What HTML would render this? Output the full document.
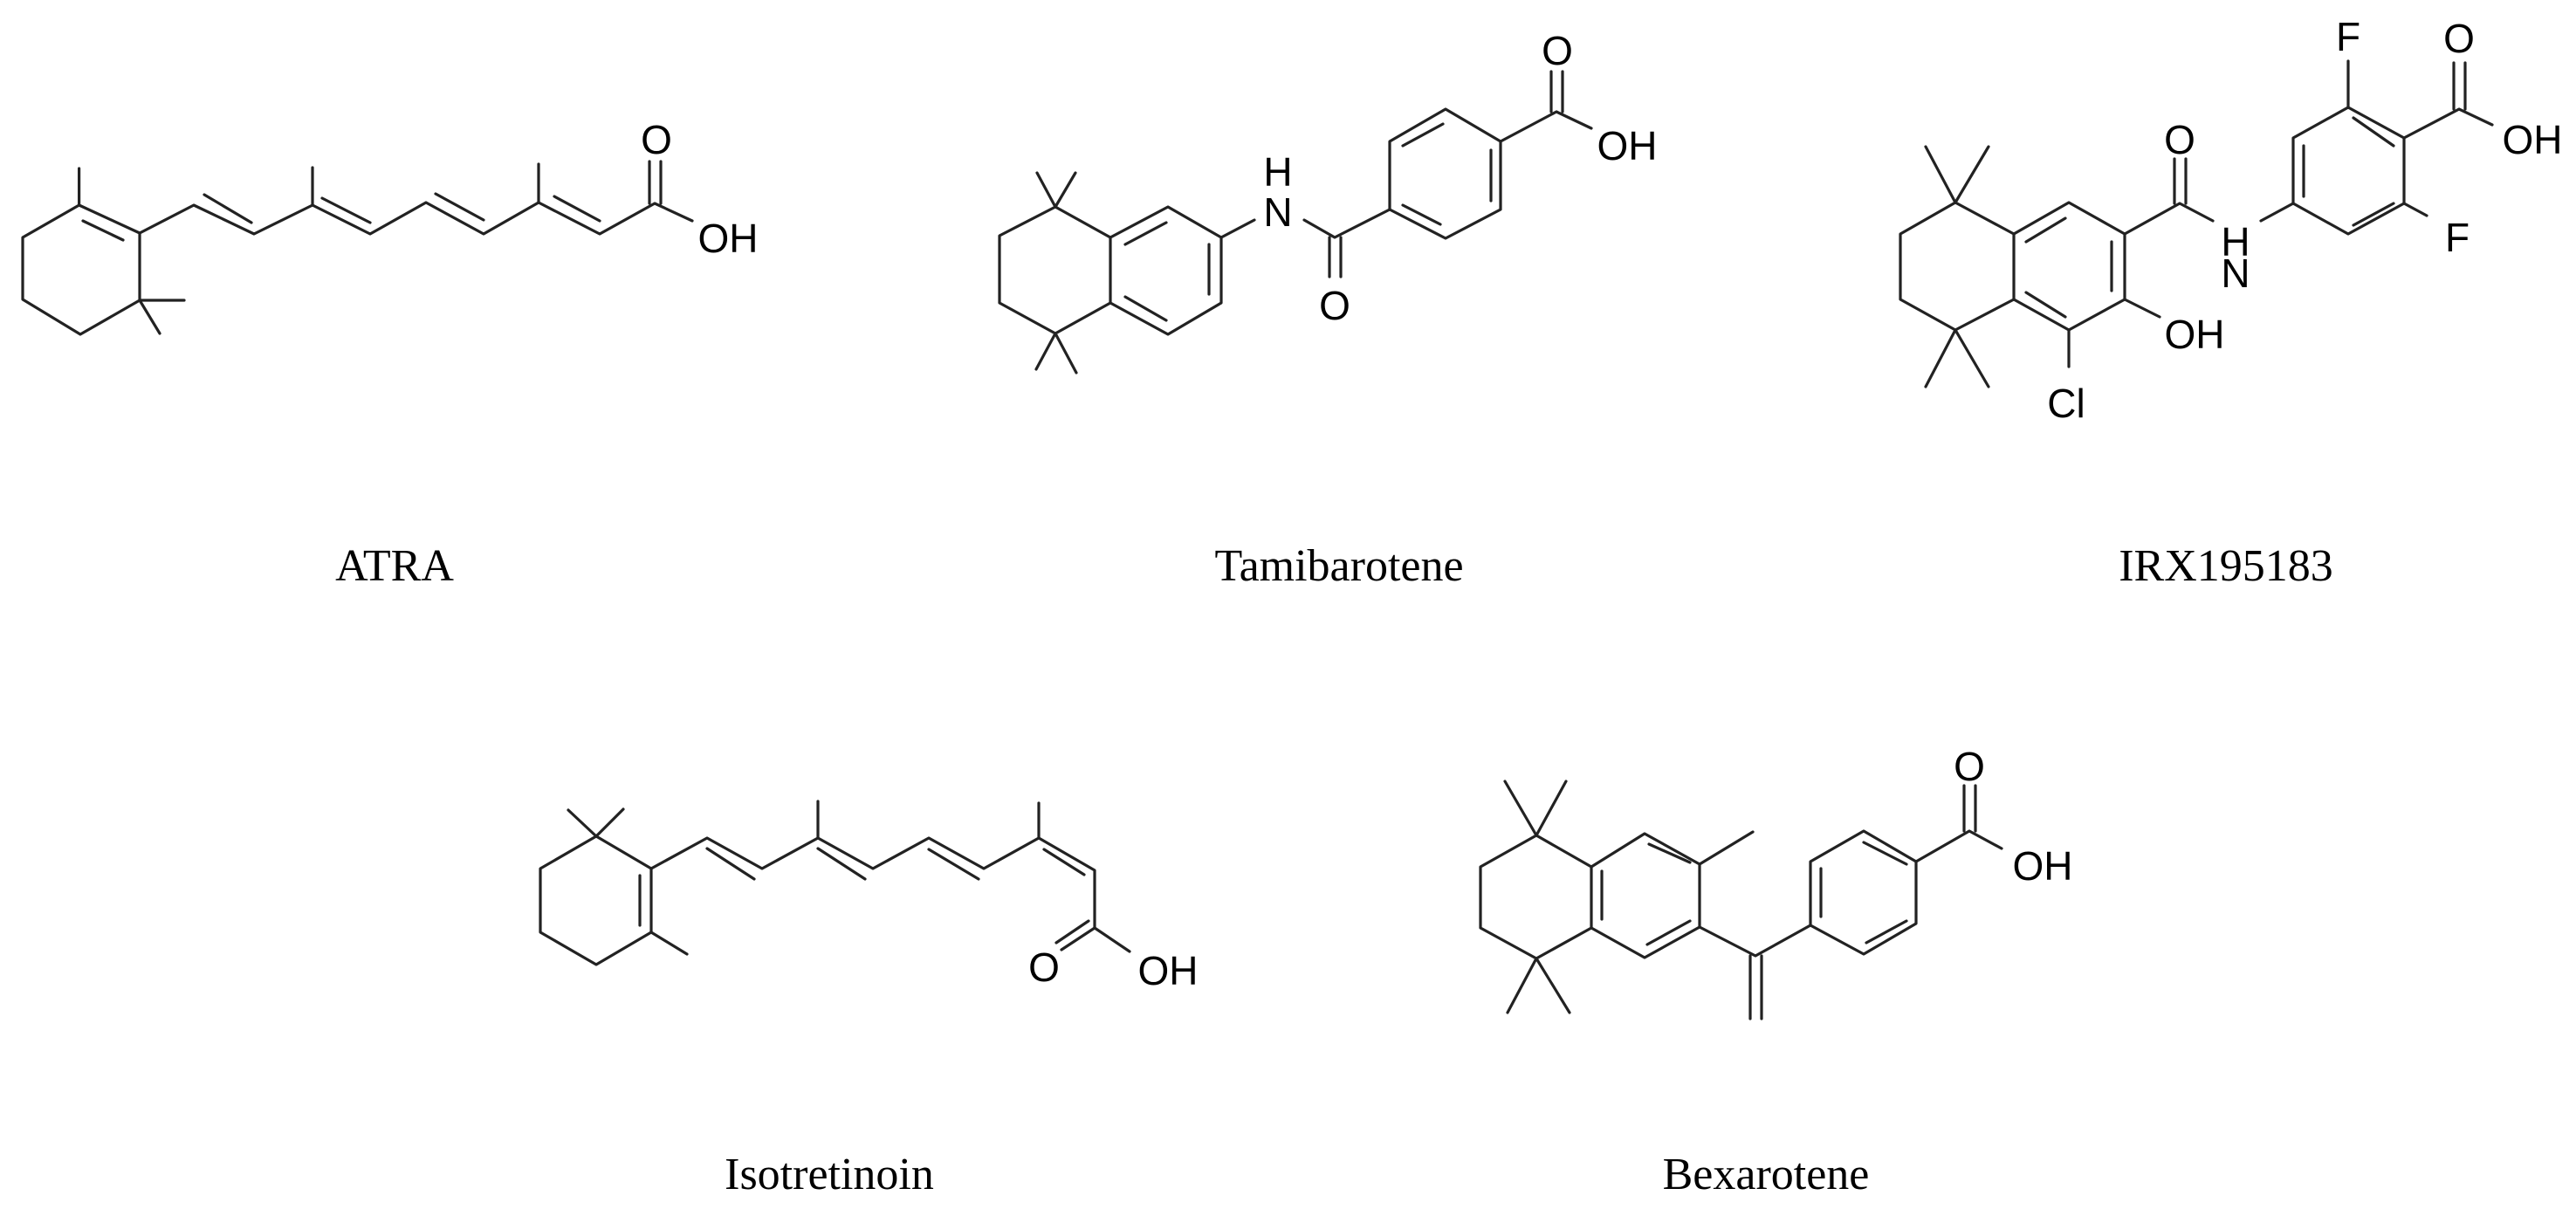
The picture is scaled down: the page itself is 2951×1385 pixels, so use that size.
<!DOCTYPE html>
<html><head><meta charset="utf-8"><style>
html,body{margin:0;padding:0;background:#fff;}
svg{display:block;}
.b{stroke:#222;stroke-width:3.2;fill:none;stroke-linecap:round;stroke-linejoin:round;}
.a{font-family:"Liberation Sans",Arial,sans-serif;font-size:46px;fill:#000;text-anchor:middle;dominant-baseline:central;}
.t{font-family:"Liberation Serif","Times New Roman",serif;font-size:52px;fill:#000;text-anchor:middle;}
</style></head><body>
<svg width="2951" height="1385" viewBox="0 0 2951 1385" xmlns="http://www.w3.org/2000/svg">
<!-- ATRA -->
<g class="b">
<polyline points="90.6,193 90.6,235 26,272 26,343 92,383 160,344 160,267 90.6,235"/>
<line x1="95" y1="253" x2="141" y2="275"/>
<line x1="160" y1="344" x2="211" y2="344"/>
<line x1="160" y1="344" x2="183" y2="382"/>
<polyline points="160,267 222,235 291,268 358,235 424,268 488,232 554,268 617,232 687,268 750,233 793,253"/>
<line x1="358" y1="235" x2="358" y2="192"/>
<line x1="617" y1="232" x2="617" y2="188"/>
<line x1="234" y1="223" x2="288" y2="255"/>
<line x1="369" y1="227" x2="424" y2="255"/>
<line x1="499" y1="222" x2="554" y2="252"/>
<line x1="635" y1="225" x2="687" y2="253"/>
<line x1="744" y1="233" x2="744" y2="185"/>
<line x1="757" y1="233" x2="757" y2="185"/>
</g>
<text class="a" x="752" y="160">O</text>
<text class="a" x="834" y="273">OH</text>
<text class="t" x="452" y="665">ATRA</text>

<!-- Tamibarotene -->
<g class="b">
<polyline points="1188,198 1209,237 1232,198"/>
<polyline points="1187,423 1209,382 1233,427"/>
<polyline points="1209,237 1145,270 1145,347 1209,382 1272,347 1272,272 1209,237"/>
<polyline points="1272,272 1338,237 1399,272 1399,347 1338,383 1272,347"/>
<line x1="1289" y1="280" x2="1336" y2="255"/>
<line x1="1385" y1="280" x2="1385" y2="337"/>
<line x1="1289" y1="340" x2="1336" y2="367"/>
<line x1="1399" y1="272" x2="1437" y2="252"/>
<polyline points="1494,252 1529,272 1592,240"/>
<line x1="1523" y1="272" x2="1523" y2="317"/>
<line x1="1536" y1="272" x2="1536" y2="317"/>
<polyline points="1592,240 1592,162 1656,125 1719,162 1719,240 1656,273 1592,240"/>
<line x1="1607" y1="167" x2="1653" y2="142"/>
<line x1="1708" y1="172" x2="1708" y2="230"/>
<line x1="1607" y1="235" x2="1650" y2="257"/>
<polyline points="1719,162 1783,128 1823,147"/>
<line x1="1777" y1="128" x2="1777" y2="82"/>
<line x1="1790" y1="128" x2="1790" y2="82"/>
</g>
<text class="a" x="1464" y="197">H</text>
<text class="a" x="1464" y="243">N</text>
<text class="a" x="1529" y="350">O</text>
<text class="a" x="1784" y="58">O</text>
<text class="a" x="1864" y="167">OH</text>
<text class="t" x="1534" y="665">Tamibarotene</text>

<!-- IRX195183 -->
<g class="b">
<polyline points="2206,168 2240,232 2278,168"/>
<polyline points="2206,443 2240,378 2278,443"/>
<polyline points="2240,232 2177,268 2177,343 2240,378 2307,343 2307,268 2240,232"/>
<polyline points="2307,268 2370,232 2434,268 2434,343 2370,378 2307,343"/>
<line x1="2321" y1="277" x2="2366" y2="250"/>
<line x1="2419" y1="277" x2="2419" y2="333"/>
<line x1="2321" y1="335" x2="2366" y2="363"/>
<line x1="2370" y1="378" x2="2370" y2="420"/>
<line x1="2434" y1="343" x2="2474" y2="363"/>
<polyline points="2434,268 2497,233 2535,253"/>
<line x1="2491" y1="233" x2="2491" y2="182"/>
<line x1="2504" y1="233" x2="2504" y2="182"/>
<line x1="2590" y1="253" x2="2627" y2="233"/>
<polyline points="2627,233 2627,158 2690,123 2754,158 2754,233 2690,268 2627,233"/>
<line x1="2639" y1="167" x2="2639" y2="225"/>
<line x1="2696" y1="135" x2="2742" y2="167"/>
<line x1="2696" y1="258" x2="2742" y2="233"/>
<line x1="2690" y1="123" x2="2690" y2="70"/>
<line x1="2754" y1="233" x2="2780" y2="247"/>
<polyline points="2754,158 2817,125 2855,143"/>
<line x1="2811" y1="125" x2="2811" y2="72"/>
<line x1="2824" y1="125" x2="2824" y2="72"/>
</g>
<text class="a" x="2367" y="462">Cl</text>
<text class="a" x="2514" y="383">OH</text>
<text class="a" x="2497" y="160">O</text>
<text class="a" x="2561" y="277">H</text>
<text class="a" x="2561" y="313">N</text>
<text class="a" x="2690" y="42">F</text>
<text class="a" x="2815" y="272">F</text>
<text class="a" x="2817" y="44">O</text>
<text class="a" x="2901" y="160">OH</text>
<text class="t" x="2550" y="665">IRX195183</text>

<!-- Isotretinoin -->
<g class="b">
<polyline points="651,928 683,958 714,927"/>
<polyline points="683,958 619,995 619,1068 683,1105 746,1068 746,995 683,958"/>
<line x1="733" y1="1003" x2="733" y2="1060"/>
<line x1="746" y1="1068" x2="787" y2="1093"/>
<polyline points="746,995 810,960 873,995 937,960 1000,995 1064,960 1127,995 1190,960 1254,997 1254,1063 1294,1090"/>
<line x1="937" y1="960" x2="937" y2="918"/>
<line x1="1190" y1="960" x2="1190" y2="920"/>
<line x1="810" y1="972" x2="864" y2="1007"/>
<line x1="937" y1="972" x2="991" y2="1007"/>
<line x1="1064" y1="973" x2="1121" y2="1007"/>
<line x1="1196" y1="973" x2="1242" y2="1002"/>
<line x1="1254" y1="1063" x2="1216" y2="1088"/>
<line x1="1247" y1="1055" x2="1210" y2="1080"/>
</g>
<text class="a" x="1196" y="1108">O</text>
<text class="a" x="1338" y="1112">OH</text>
<text class="t" x="950" y="1362">Isotretinoin</text>

<!-- Bexarotene -->
<g class="b">
<polyline points="1724,895 1760,957 1794,895"/>
<polyline points="1727,1160 1760,1098 1798,1160"/>
<polyline points="1760,957 1696,993 1696,1063 1760,1098 1823,1063 1823,993 1760,957"/>
<polyline points="1823,993 1884,955 1947,990 1947,1062 1884,1097 1823,1063"/>
<line x1="1835" y1="998" x2="1835" y2="1053"/>
<line x1="1889" y1="967" x2="1936" y2="988"/>
<line x1="1887" y1="1082" x2="1936" y2="1055"/>
<line x1="1947" y1="990" x2="2008" y2="953"/>
<polyline points="1947,1062 2011,1095 2074,1060"/>
<line x1="2005" y1="1095" x2="2005" y2="1167"/>
<line x1="2018" y1="1095" x2="2018" y2="1167"/>
<polyline points="2074,1060 2074,987 2135,952 2195,987 2195,1058 2135,1093 2074,1060"/>
<line x1="2086" y1="995" x2="2086" y2="1050"/>
<line x1="2135" y1="965" x2="2184" y2="990"/>
<line x1="2138" y1="1080" x2="2184" y2="1055"/>
<polyline points="2195,987 2256,952 2293,972"/>
<line x1="2250" y1="952" x2="2250" y2="900"/>
<line x1="2263" y1="952" x2="2263" y2="900"/>
</g>
<text class="a" x="2256" y="878">O</text>
<text class="a" x="2340" y="992">OH</text>
<text class="t" x="2023" y="1362">Bexarotene</text>
</svg>
</body></html>
